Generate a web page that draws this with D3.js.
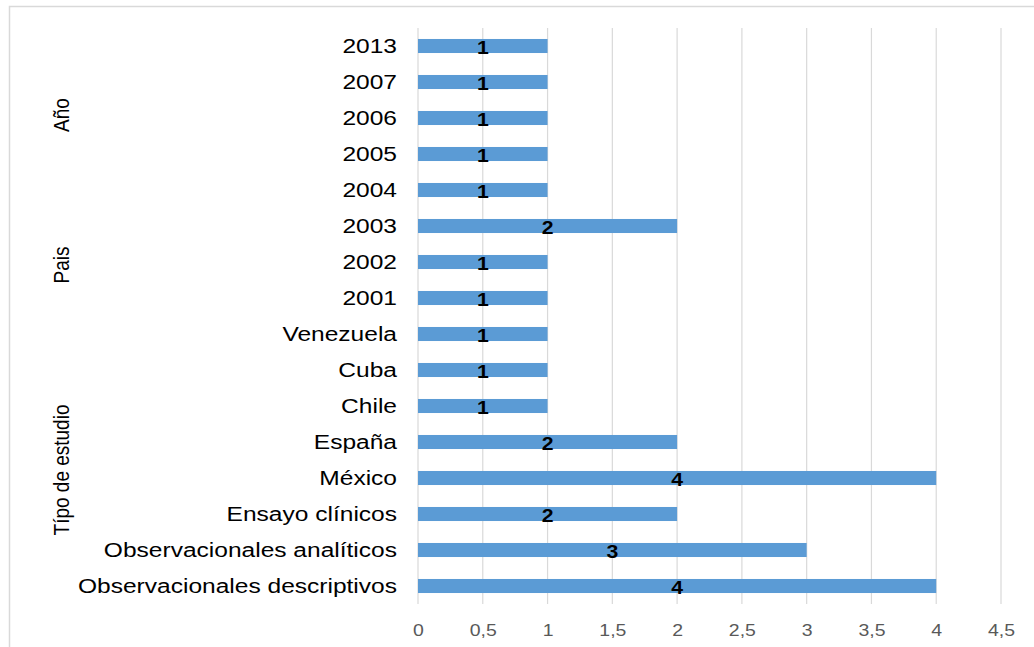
<!DOCTYPE html>
<html>
<head>
<meta charset="utf-8">
<script src="https://cdn.jsdelivr.net/npm/d3@7"></script>
<style>
  html, body { margin: 0; padding: 0; background: #fff; }
  svg { display: block; }
  text { font-family: "Liberation Sans", Arial, sans-serif; }
</style>
</head>
<body>
<script>
// Categories from top to bottom of the axis
const categories = [
  "2013", "2007", "2006", "2005", "2004", "2003", "2002", "2001",
  "Venezuela", "Cuba", "Chile", "España", "México",
  "Ensayo clínicos", "Observacionales analíticos", "Observacionales descriptivos"
];
// Number of articles per category
const values = [1, 1, 1, 1, 1, 2, 1, 1, 1, 1, 1, 2, 4, 2, 3, 4];
// Value axis ticks
const xTicks = [0, 0.5, 1, 1.5, 2, 2.5, 3, 3.5, 4, 4.5];
// Group titles and the category each one sits beside
const groupLabels = ["Año", "Pais", "Típo de estudio"];
const groupAnchors = ["2006", "2002", "México"];

const W = 1034, H = 647;
const plot = { left: 418, right: 1001, top: 28, bottom: 604 };
const stretch = 1.18; // wide-set lettering

const svg = d3.select("body").append("svg")
  .attr("width", W).attr("height", H);

// Chart frame
svg.append("path")
  .attr("d", `M9.5,${H} V6.5 H${W}`)
  .attr("fill", "none")
  .attr("stroke", "#d9d9d9")
  .attr("stroke-width", 1.5);

const x = d3.scaleLinear().domain([0, 4.5]).range([plot.left, plot.right]);
const y = d3.scaleBand().domain(categories)
  .range([plot.top, plot.bottom])
  .paddingInner(0.61).paddingOuter(0.305);

// Vertical gridlines
svg.append("g").selectAll("line").data(xTicks).join("line")
  .attr("x1", d => x(d)).attr("x2", d => x(d))
  .attr("y1", plot.top).attr("y2", plot.bottom)
  .attr("stroke", "#d9d9d9").attr("stroke-width", 1.2);

// Value axis labels
const fmt = d => String(d).replace(".", ",");
const xAxis = svg.append("g")
  .attr("transform", `translate(0,${plot.bottom})`)
  .call(d3.axisBottom(x).tickValues(xTicks).tickFormat(fmt).tickSize(0).tickPadding(0));
xAxis.select(".domain").remove();
xAxis.selectAll("text")
  .attr("y", 26)
  .attr("dy", "0.35em")
  .attr("fill", "#595959")
  .style("font-size", "16.5px")
  .style("font-family", "'Liberation Sans', Arial, sans-serif")
  .attr("transform", `scale(${stretch},1)`)
  .attr("x", 0);

// Bars
const rows = categories.map((c, i) => ({ c, v: values[i] }));
svg.append("g").selectAll("rect").data(rows).join("rect")
  .attr("x", x(0))
  .attr("y", d => y(d.c))
  .attr("width", d => x(d.v) - x(0))
  .attr("height", y.bandwidth())
  .attr("fill", "#5b9bd5");

// Category labels
const yAxis = svg.append("g")
  .attr("transform", `translate(${plot.left},0)`)
  .call(d3.axisLeft(y).tickSize(0).tickPadding(0));
yAxis.select(".domain").remove();
yAxis.selectAll("text")
  .attr("x", 0)
  .attr("dy", "0.35em")
  .attr("fill", "#000")
  .style("font-size", "20.8px")
  .style("font-family", "'Liberation Sans', Arial, sans-serif")
  .attr("transform", `translate(-21,0) scale(${stretch},1)`);

// Value labels centred in each bar
svg.append("g").selectAll("text").data(rows).join("text")
  .attr("transform", d => `translate(${(x(0) + x(d.v)) / 2},${y(d.c) + y.bandwidth() / 2 + 2}) scale(${stretch},1)`)
  .attr("text-anchor", "middle")
  .attr("dy", "0.36em")
  .attr("font-weight", "bold")
  .attr("font-size", "18px")
  .attr("fill", "#000")
  .text(d => d.v);

// Group titles
const groupShift = [-3, 3, -8];
svg.append("g").selectAll("text").data(groupLabels).join("text")
  .attr("transform", (d, i) => {
    const cy = y(groupAnchors[i]) + y.bandwidth() / 2 + groupShift[i];
    return `translate(61,${cy}) rotate(-90) scale(1,${stretch})`;
  })
  .attr("text-anchor", "middle")
  .attr("dy", "0.35em")
  .attr("font-size", "19px")
  .attr("fill", "#000")
  .text(d => d);
</script>
</body>
</html>
